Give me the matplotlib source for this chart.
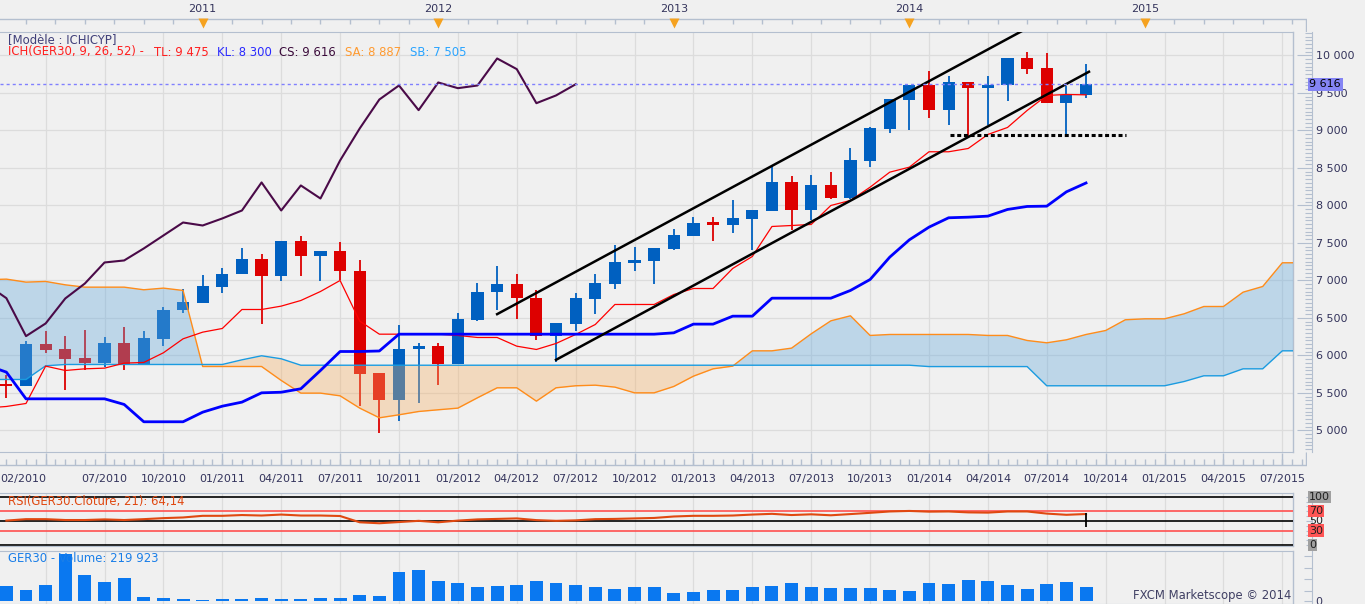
import matplotlib
matplotlib.use('Agg')
import matplotlib.pyplot as plt
import matplotlib.transforms as mtransforms
from matplotlib.ticker import MultipleLocator, NullFormatter
import numpy as np

# ---------------------------------------------------------------
# GER30 monthly candles, month index 0 = 01/2010 (first candle = 02/2010)
months = np.arange(1, 57)
open_ = np.array([5625, 5595, 6150, 6080, 5960, 5895, 6160, 5884, 6218, 6604, 6698, 6911,
                  7080, 7280, 7058, 7520, 7324, 7387, 7133, 5760, 5413, 6084, 6120, 5884,
                  6467, 6844, 6947, 6773, 6258, 6418, 6747, 6947, 7231, 7253, 7413, 7587,
                  7773, 7733, 7813, 7920, 8307, 7933, 8267, 8097, 8591, 9018, 9404, 9600,
                  9271, 9640, 9564, 9604, 9960, 9827, 9364, 9467])
high = np.array([5735, 6190, 6320, 6265, 6335, 6240, 6377, 6320, 6653, 6893, 7067, 7160,
                 7427, 7347, 7520, 7587, 7387, 7507, 7267, 5769, 6413, 6173, 6160, 6560,
                 6960, 7187, 7080, 6867, 6427, 6827, 7093, 7467, 7440, 7427, 7680, 7853,
                 7853, 8067, 7933, 8520, 8387, 8400, 8453, 8760, 9053, 9413, 9600, 9787,
                 9720, 9640, 9733, 9960, 10040, 10027, 9587, 9880])
low = np.array([5430, 5590, 6035, 5545, 5800, 5845, 5813, 5880, 6120, 6564, 6698, 6831,
                7080, 6418, 6991, 7058, 6991, 7000, 5333, 4969, 5129, 5373, 5613, 5884,
                6460, 6600, 6493, 6200, 5911, 6320, 6547, 6893, 7120, 6947, 7413, 7587,
                7533, 7627, 7413, 7920, 7667, 7800, 8093, 8093, 8507, 8973, 9000, 9164,
                9071, 8924, 9071, 9391, 9751, 9364, 8911, 9427])
close = np.array([5595, 6150, 6070, 5950, 5895, 6160, 5867, 6227, 6613, 6707, 6920, 7093,
                  7280, 7058, 7520, 7324, 7387, 7124, 5751, 5413, 6093, 6120, 5884, 6480,
                  6853, 6947, 6764, 6258, 6427, 6760, 6960, 7240, 7267, 7427, 7600, 7773,
                  7733, 7827, 7933, 8307, 7933, 8267, 8093, 8600, 9027, 9413, 9600, 9271,
                  9640, 9564, 9600, 9960, 9818, 9364, 9467, 9616])

# Ichimoku lines
line_m = np.arange(0, 57)
tenkan = [5300, 5320, 5360, 5858, 5800, 5822, 5831, 5898, 5907, 6036, 6222, 6311,
          6360, 6613, 6613, 6658, 6733, 6853, 7000, 6458, 6284, 6284, 6284, 6284,
          6267, 6240, 6240, 6124, 6080, 6160, 6280, 6413, 6680, 6680, 6680, 6813,
          6893, 6893, 7160, 7320, 7720, 7733, 7747, 8000, 8067, 8244, 8444, 8511,
          8716, 8716, 8760, 8947, 9040, 9267, 9467, 9480, 9475]
kijun = [5870, 5778, 5422, 5422, 5422, 5422, 5422, 5347, 5116, 5116, 5116, 5244,
         5324, 5378, 5502, 5510, 5556, 5800, 6053, 6053, 6060, 6284, 6284, 6284,
         6284, 6284, 6284, 6284, 6284, 6284, 6284, 6284, 6284, 6284, 6284, 6302,
         6418, 6418, 6524, 6524, 6764, 6764, 6764, 6764, 6867, 7013, 7311, 7542,
         7711, 7836, 7844, 7858, 7947, 7987, 7991, 8182, 8300]
senkou_m = np.arange(0, 68)
senkou_a = np.array([7010, 7018, 6978, 6987, 6942, 6911, 6911, 6911, 6876, 6898, 6867, 5853,
                     5853, 5853, 5853, 5667, 5498, 5498, 5462, 5298, 5169, 5209, 5253, 5276,
                     5298, 5436, 5569, 5569, 5391, 5569, 5596, 5604, 5578, 5502, 5502, 5587,
                     5724, 5822, 5858, 6062, 6062, 6098, 6289, 6462, 6529, 6267, 6280, 6280,
                     6280, 6280, 6280, 6267, 6267, 6200, 6169, 6209, 6280, 6333, 6476, 6489,
                     6489, 6556, 6653, 6653, 6844, 6920, 7236, 7236])
senkou_b = np.array([5680, 5680, 5680, 5862, 5880, 5880, 5880, 5880, 5880, 5880, 5880, 5880,
                     5880, 5942, 5996, 5956, 5870, 5870, 5870, 5870, 5870, 5870, 5870, 5870,
                     5870, 5870, 5870, 5870, 5870, 5870, 5870, 5870, 5870, 5870, 5870, 5870,
                     5870, 5870, 5870, 5870, 5870, 5870, 5870, 5870, 5870, 5870, 5870, 5870,
                     5852, 5852, 5852, 5852, 5852, 5852, 5596, 5596, 5596, 5596, 5596, 5596,
                     5596, 5653, 5729, 5729, 5822, 5822, 6062, 6062])
chikou_shift = 26

# hand-drawn channel and support line
channel_up_m = [26.0, 53.0]
channel_up_p = [6551, 10363]
channel_lo_m = [29.0, 56.15]
channel_lo_p = [5942, 9783]
support_m = [49.05, 58.05]
support_p = [8940, 8940]

# RSI(21) and volume (thousands)
rsi = [50.5, 53.5, 53.5, 51.7, 51.7, 53, 51.7, 53.5, 55.6, 57, 60.4, 60.4,
       62, 61, 63, 61, 61, 60, 47, 45, 47.5, 50, 47, 50.5,
       53, 54, 55, 51.5, 50, 51, 53.5, 54, 55, 56, 59, 60.4,
       60.4, 61, 63, 64.5, 62, 63.5, 61.5, 64, 66.6, 69.4, 70.5, 69,
       69.4, 67.5, 67, 69.4, 69.4, 65, 62.5, 64.14]
volume = [231, 168, 246, 733, 403, 294, 356, 63, 47, 31, 11, 31,
          31, 47, 31, 31, 47, 47, 89, 74, 455, 487, 314, 283,
          220, 236, 251, 314, 283, 251, 220, 188, 220, 220, 126, 141,
          173, 173, 220, 236, 283, 220, 204, 204, 204, 173, 157, 283,
          267, 330, 314, 251, 188, 267, 298, 220]

date_labels = ['07/2010', '10/2010', '01/2011', '04/2011', '07/2011', '10/2011',
               '01/2012', '04/2012', '07/2012', '10/2012', '01/2013', '04/2013',
               '07/2013', '10/2013', '01/2014', '04/2014', '07/2014', '10/2014',
               '01/2015', '04/2015', '07/2015']
years = [2011, 2012, 2013, 2014, 2015]

# ---------------------------------------------------------------
BG = '#f0f0f0'
GRID = '#dcdcdc'
AXC = '#b4bfcf'
TXT = '#34345c'
BLUE = '#0060c0'
RED = '#dd0000'
FS_HEAD = 8.4

W, H = 1365, 604
fig = plt.figure(figsize=(W / 100, H / 100), dpi=100, facecolor=BG)
plt.rcParams['font.family'] = ['DejaVu Sans']


def px_rect(x0, y0, x1, y1):
    return [x0 / W, 1 - y1 / H, (x1 - x0) / W, (y1 - y0) / H]


def m_at(x):
    # pixel column -> month index
    return 0.675 + x / 19.63


def ftext(x, y, s, **kw):
    fig.text(x / W, 1 - y / H, s, **kw)


quarters = np.arange(3, 67, 3)
X0, X1, XR = m_at(0), m_at(1292.7), m_at(1306.7)


def style_panel(a):
    a.set_facecolor(BG)
    a.set_xlim(X0, X1)
    a.set_xticks(quarters)
    a.tick_params(axis='x', bottom=False, labelbottom=False)
    a.grid(True, axis='x', color=GRID, lw=0.9)
    a.set_axisbelow(True)
    for s in ['top', 'bottom']:
        a.spines[s].set_color(AXC)
    a.spines['left'].set_visible(False)
    a.yaxis.tick_right()
    a.spines['right'].set_position(('outward', 14))
    a.spines['right'].set_color(AXC)
    a.plot([1, 1], [0, 1], transform=a.transAxes, color=AXC, lw=1, clip_on=False)


# ---------------- main price panel
ax = fig.add_axes(px_rect(0, 31.7, 1292.7, 452.3))
style_panel(ax)
ax.set_ylim(4709, 10317)
ax.set_yticks(np.arange(5000, 10001, 500))
ax.yaxis.set_minor_locator(MultipleLocator(50))
ax.yaxis.set_minor_formatter(NullFormatter())
ax.set_yticklabels([f'{v:,}'.replace(',', ' ') for v in range(5000, 10001, 500)])
ax.grid(True, axis='y', color=GRID, lw=0.9)
ax.tick_params(axis='y', which='major', direction='in', length=11, width=0.8,
               color=AXC, labelsize=8, labelcolor=TXT, pad=2.5)
ax.tick_params(axis='y', which='minor', direction='in', length=5, width=0.8, color=AXC)

up = close >= open_
cols = np.where(up, BLUE, RED)
ax.vlines(months, low, high, colors=cols, lw=1.3, zorder=2)
ax.bar(months, np.abs(close - open_), bottom=np.minimum(open_, close), width=0.62,
       color=cols, lw=0, zorder=2)

ax.fill_between(senkou_m, senkou_a, senkou_b, where=senkou_a >= senkou_b, interpolate=True,
                color=(100 / 255, 170 / 255, 220 / 255), alpha=0.36, lw=0, zorder=3)
ax.fill_between(senkou_m, senkou_a, senkou_b, where=senkou_a < senkou_b, interpolate=True,
                color=(246 / 255, 177 / 255, 103 / 255), alpha=0.36, lw=0, zorder=3)
ax.plot(senkou_m, senkou_a, color='#ff8c1a', lw=1, zorder=4)
ax.plot(senkou_m, senkou_b, color='#1a9be0', lw=1, zorder=4)

ax.plot(line_m, tenkan, color='#ff0000', lw=0.9, zorder=5)
ax.plot(line_m, kijun, color='#0000ff', lw=2.0, zorder=5)
ax.plot(months[chikou_shift - 1:] - chikou_shift, close[chikou_shift - 1:],
        color='#4a0a48', lw=1.5, zorder=5)

ax.plot(channel_up_m, channel_up_p, color='black', lw=1.8, zorder=6)
ax.plot(channel_lo_m, channel_lo_p, color='black', lw=1.8, zorder=6)
ax.plot(support_m, support_p, color='black', lw=2.2, dashes=(1.3, 0.9), zorder=6)

ax.axhline(close[-1], color='#8080ff', lw=1, dashes=(2.2, 2.2), zorder=6)
blend = mtransforms.blended_transform_factory(ax.transAxes, ax.transData)
ax.text(1.0128, close[-1], f'{close[-1]:,}'.replace(',', ' '), transform=blend,
        ha='left', va='center', fontsize=8, color='black', zorder=20, clip_on=False,
        bbox=dict(boxstyle='square,pad=0.15', fc='#8484f4', ec='none'))

# ---------------- top ruler with years
ax_t = fig.add_axes(px_rect(0, 0, 1306.7, 31.7))
ax_t.set_xlim(X0, XR)
ax_t.set_ylim(31.7, 0)
ax_t.axis('off')
ax_t.plot([X0, XR], [19, 19], color=AXC, lw=1)
ax_t.vlines(np.arange(2, 67, 1.5), 19, 24, color=AXC, lw=1)
ax_t.vlines(XR - 0.02, 19, 31.7, color=AXC, lw=1)
year_pos = [(y - 2010) * 12 - 1 for y in years]
ax_t.plot(year_pos, [23] * len(years), 'v', color='#f5a21f', ms=7, mec='none')
for p, y in zip(year_pos, years):
    ax_t.text(p, 9, str(y), ha='center', va='center', fontsize=8, color=TXT)

# ---------------- bottom ruler with dates
ax_b = fig.add_axes(px_rect(0, 452.3, 1306.7, 493.3))
ax_b.set_xlim(X0, XR)
ax_b.set_ylim(493.3, 452.3)
ax_b.axis('off')
ax_b.plot([X0, XR], [465, 465], color=AXC, lw=1)
ax_b.vlines(np.arange(1, 67.1, 0.5), 459.5, 465, color=AXC, lw=1)
ax_b.vlines(quarters, 453, 465, color=AXC, lw=1)
ax_b.vlines(XR - 0.02, 452.3, 465, color=AXC, lw=1)
ax_b.text(X0, 479, '02/2010', ha='left', va='center', fontsize=8, color=TXT)
for p, s in zip(np.arange(6, 67, 3), date_labels):
    ax_b.text(p, 479, s, ha='center', va='center', fontsize=8, color=TXT)

# ---------------- RSI panel
ax_r = fig.add_axes(px_rect(0, 493.3, 1292.7, 546))
style_panel(ax_r)
ax_r.set_ylim(-2.07, 107.0)
ax_r.set_yticks(np.arange(0, 101, 10))
ax_r.set_yticklabels([])
ax_r.tick_params(axis='y', direction='in', length=4, width=0.8, color=AXC)
for lvl, c in [(100, 'black'), (50, 'black'), (0, 'black'), (70, '#ff5050'), (30, '#ff5050')]:
    ax_r.axhline(lvl, color=c, lw=1.2, zorder=2)
ax_r.plot(months, rsi, color='#e04810', lw=1.5, zorder=4)
ax_r.vlines(months[-1], 38, 66, color='black', lw=1.3, zorder=5)
blend_r = mtransforms.blended_transform_factory(ax_r.transAxes, ax_r.transData)
for lvl, fc in [(50, None), (100, '#a0a0a0'), (0, '#a0a0a0'), (70, '#ff5555'), (30, '#ff5555')]:
    bb = dict(boxstyle='square,pad=0.1', fc=fc, ec='none') if fc else None
    ax_r.text(1.0128, lvl, str(lvl), transform=blend_r, ha='left', va='center',
              fontsize=8, color='#202020', bbox=bb, clip_on=False, zorder=20)

# ---------------- volume panel
ax_v = fig.add_axes(px_rect(0, 551, 1292.7, 604))
style_panel(ax_v)
ax_v.set_ylim(-51.8, 780)
ax_v.bar(months, volume, width=0.66, color='#0a78f0', lw=0, zorder=3)
ax_v.set_yticks([0, 160, 340, 520, 700])
ax_v.set_yticklabels(['0', '', '', '', ''])
ax_v.tick_params(axis='y', direction='in', length=6, width=0.8, color=AXC,
                 labelsize=8, labelcolor=TXT, pad=2.5)

# ---------------- header / labels
ftext(8, 39.5, '[Modèle : ICHICYP]', fontsize=FS_HEAD, color='#40407a', va='center')
ftext(8, 52, 'ICH(GER30, 9, 26, 52) -', fontsize=FS_HEAD, color='#ff1e1e', va='center')
ftext(154, 52, f'TL: {tenkan[-1]:,}'.replace(',', ' '), fontsize=FS_HEAD, color='#ff1e1e', va='center')
ftext(217, 52, f'KL: {kijun[-1]:,}'.replace(',', ' '), fontsize=FS_HEAD, color='#2a2aff', va='center')
ftext(279, 52, f'CS: {close[-1]:,}'.replace(',', ' '), fontsize=FS_HEAD, color='#3a0a3a', va='center')
ftext(345, 52, 'SA: 8 887', fontsize=FS_HEAD, color='#ff9a30', va='center')
ftext(410, 52, 'SB: 7 505', fontsize=FS_HEAD, color='#2aa4ff', va='center')
ftext(8, 501, 'RSI(GER30.Cloture, 21): 64,14', fontsize=FS_HEAD, color='#e04810', va='center')
ftext(8, 558.5, 'GER30 - Volume: 219 923', fontsize=FS_HEAD, color='#1a7ee8', va='center')
ftext(1291, 596, 'FXCM Marketscope © 2014', fontsize=FS_HEAD, color='#404064', va='center', ha='right')

fig.savefig('out.png', dpi=100, facecolor=BG)
